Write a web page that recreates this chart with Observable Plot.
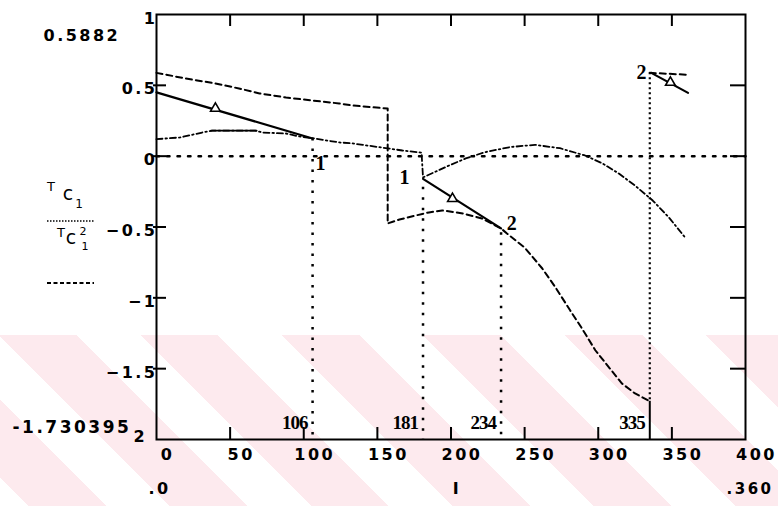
<!DOCTYPE html>
<html><head><meta charset="utf-8">
<script src="https://cdn.jsdelivr.net/npm/d3@7"></script>
<script src="https://cdn.jsdelivr.net/npm/@observablehq/plot@0.6"></script>
<style>
html,body{margin:0;padding:0;background:#fff;}
#chart{position:relative;width:778px;height:506px;}
#wm{position:absolute;left:0;top:335px;width:778px;height:171px;
  background:repeating-linear-gradient(45deg,#ffffff 0px,#ffffff 20px,#fdeaee 20px,#fdeaee 75px,#ffffff 75px,#ffffff 100px);}
#chart svg{position:absolute;left:0;top:0;}
svg text{letter-spacing:2.5px;}
g[font-family="Liberation Serif"] text{letter-spacing:-1px;}
</style></head><body><div id="chart"><div id="wm"></div></div>
<script>
// ---- tick values ----
const xTicks = [0, 50, 100, 150, 200, 250, 300, 350, 400];
const yTicks = [1, 0.5, 0, -0.5, -1, -1.5];
const xInner = [50, 100, 150, 200, 250, 300, 350];
const yInner = [0.5, 0, -0.5, -1, -1.5];

// ---- Tc2 (dashed) ----
const tc2Main = [[0,0.588],[20,0.548],[40,0.513],[56,0.478],[70,0.443],[88,0.414],[106,0.393],[124,0.372],[133,0.358],[157,0.336],
  [157,-0.475],[165,-0.447],[176,-0.419],[185,-0.397],[194,-0.383],[208,-0.404],[221,-0.44],[234,-0.51],
  [238,-0.546],[250,-0.645],[262,-0.793],[271,-0.927],[281,-1.09],[289,-1.217],[298,-1.37],[308,-1.5],[316,-1.604],[325,-1.675],[335,-1.7304]];
const tc2Tail = [[335,0.588],[360,0.575]];

// ---- Tc1 (dotted) ----
const tc1Zero = [[0,0],[400,0]];
const switchX = [106, 181, 234];
const switchTop = [0.125, -0.22, -0.54];
const jumpX = [335];
const jumpTop = [0.588];
const jumpBottom = [-1.7304];

// ---- dash-dot trace ----
const dashDot = [[0,0.12],[16,0.132],[31,0.167],[38,0.181],[67,0.181],[72,0.167],[88,0.16],[97,0.139],[107,0.125],[124,0.097],[133,0.09],[153,0.061],[167,0.04],[180,0.025],
  [181,-0.15],[196,-0.078],[210,-0.016],[223,0.028],[240,0.064],[257,0.08],[274,0.056],[291,0.005],[303,-0.052],[314,-0.123],[325,-0.208],[337,-0.313],[348,-0.433],[359,-0.574]];
const flatSolid = [[37,0.181],[68,0.181]];

// ---- solid trajectory segments ----
const traj1 = [[0,0.45],[106,0.125]];
const traj2 = [[181,-0.16],[234,-0.51]];
const traj3 = [[336,0.588],[361,0.447]];
const triangles = [[40,0.337],[201,-0.30],[349,0.52]];

// ---- annotations ----
const pointLabels = ["1","1","2","2"];
const pointLabelX = [111, 168, 241, 329];
const pointLabelY = [-0.05, -0.15, -0.476, 0.59];
const switchLabels = ["106","181","234","335"];
const switchLabelX = [106, 181, 234, 335];
const switchLabelY = -1.88;

const fmt = d => String(d).replace("-", "\u2212");
const ky = 3 / 425, kx = 400 / 589; // data units per pixel
const P = d => d[0], Q = d => d[1];
const sans = {fontFamily: "DejaVu Sans", fontWeight: "bold", fontSize: 16, fill: "black"};

const chart = Plot.plot({
  width: 778, height: 506,
  marginLeft: 156, marginRight: 33, marginTop: 14, marginBottom: 67,
  x: {domain: [0, 400], axis: null},
  y: {domain: [-2, 1], axis: null},
  style: {background: "transparent", overflow: "visible"},
  marks: [
    // ticks (inward)
    Plot.ruleX(xInner, {x: d => d, y1: -2, y2: -2 + 12 * ky, stroke: "black", strokeWidth: 2}),
    Plot.ruleX(xInner, {x: d => d, y1: 1, y2: 1 - 12 * ky, stroke: "black", strokeWidth: 2}),
    Plot.ruleY(yInner, {y: d => d, x1: -3 * kx, x2: 10 * kx, stroke: "black", strokeWidth: 2}),
    Plot.ruleY(yInner, {y: d => d, x1: 400, x2: 400 - 15 * kx, stroke: "black", strokeWidth: 2}),
    // dotted Tc1
    Plot.line(tc1Zero, {x: P, y: Q, stroke: "black", strokeWidth: 2.5, strokeDasharray: "2.5,8"}),
    Plot.ruleX(switchX.map((x, i) => i), {x: i => switchX[i], y1: i => switchTop[i], y2: -2, stroke: "black", strokeWidth: 2.5, strokeDasharray: "2.5,8"}),
    Plot.ruleX(jumpX.map((x, i) => i), {x: i => jumpX[i], y1: i => jumpTop[i], y2: i => jumpBottom[i], stroke: "black", strokeWidth: 2.2, strokeDasharray: "2,3"}),
    Plot.ruleX(jumpX.map((x, i) => i), {x: i => jumpX[i], y1: i => jumpBottom[i], y2: -2, stroke: "black", strokeWidth: 2}),
    // dashed Tc2
    Plot.line(tc2Main, {x: P, y: Q, stroke: "black", strokeWidth: 2, strokeDasharray: "6,4"}),
    Plot.line(tc2Tail, {x: P, y: Q, stroke: "black", strokeWidth: 2, strokeDasharray: "6,4"}),
    // dash-dot trace
    Plot.line(dashDot, {x: P, y: Q, stroke: "black", strokeWidth: 1.8, strokeDasharray: "6,3,1.5,3"}),
    Plot.line(flatSolid, {x: P, y: Q, stroke: "black", strokeWidth: 1.8}),
    // solid trajectories
    Plot.line(traj1, {x: P, y: Q, stroke: "black", strokeWidth: 2.2}),
    Plot.line(traj2, {x: P, y: Q, stroke: "black", strokeWidth: 2.2}),
    Plot.line(traj3, {x: P, y: Q, stroke: "black", strokeWidth: 2.2}),
    Plot.dot(triangles, {x: P, y: Q, symbol: "triangle", r: 3.6, fill: "white", stroke: "black", strokeWidth: 1.6}),
    // frame
    Plot.frame({stroke: "black", strokeWidth: 2}),
    // point labels
    Plot.text(pointLabels, {x: (d, i) => pointLabelX[i], y: (d, i) => pointLabelY[i], text: d => d,
      fontFamily: "Liberation Serif", fontWeight: "bold", fontSize: 20, fill: "black"}),
    Plot.text(switchLabels, {x: (d, i) => switchLabelX[i], y: switchLabelY, text: d => d, textAnchor: "end", dx: -5,
      fontFamily: "Liberation Serif", fontWeight: "bold", fontSize: 19, fill: "black"}),
    // tick labels
    Plot.text(xTicks, {x: d => d, frameAnchor: "bottom", dy: 20, dx: 11, text: d => fmt(d), ...sans}),
    Plot.text(yTicks, {y: d => d, frameAnchor: "left", textAnchor: "end", dx: 1, dy: 4, text: d => fmt(d), ...sans}),
    // limit labels
    Plot.text(["0.5882"], {frameAnchor: "top-left", textAnchor: "start", dx: -113, dy: 15, text: d => d, ...sans}),
    Plot.text(["-1.730395"], {frameAnchor: "bottom-left", textAnchor: "start", dx: -144, dy: -7, text: d => d, ...sans, fontSize: 17}),
    Plot.text(["2"], {frameAnchor: "bottom-left", textAnchor: "start", dx: -23, dy: 2, text: d => d, ...sans}),
    Plot.text([".0"], {frameAnchor: "bottom-left", textAnchor: "start", dx: -8, dy: 54, text: d => d, ...sans}),
    Plot.text(["I"], {frameAnchor: "bottom", textAnchor: "middle", dx: 6, dy: 54, text: d => d, ...sans}),
    Plot.text([".360"], {frameAnchor: "bottom-right", textAnchor: "start", dx: -19, dy: 54, text: d => d, ...sans, fontSize: 15})
  ]
});
document.getElementById("chart").appendChild(chart);

// legend (left side)
const svg = d3.select(chart);
const lg = svg.append("g").attr("font-family", "DejaVu Sans").attr("fill", "black");
const addT = (x, y, s, size) => lg.append("text").attr("x", x).attr("y", y).attr("font-size", size).style("letter-spacing", "0px").text(s);
addT(51, 191, "T", 13); addT(68, 200, "c", 19); addT(79, 208, "1", 12);
lg.append("line").attr("x1", 47).attr("x2", 94).attr("y1", 221).attr("y2", 221).attr("stroke", "black").attr("stroke-width", 1.5).attr("stroke-dasharray", "1.5,1.5");
addT(61, 237, "T", 13); addT(71, 244, "c", 19); addT(83, 235, "2", 11); addT(85, 250, "1", 11);
lg.append("line").attr("x1", 47).attr("x2", 94).attr("y1", 283).attr("y2", 283).attr("stroke", "black").attr("stroke-width", 1.8).attr("stroke-dasharray", "4,2.5");
</script></body></html>
